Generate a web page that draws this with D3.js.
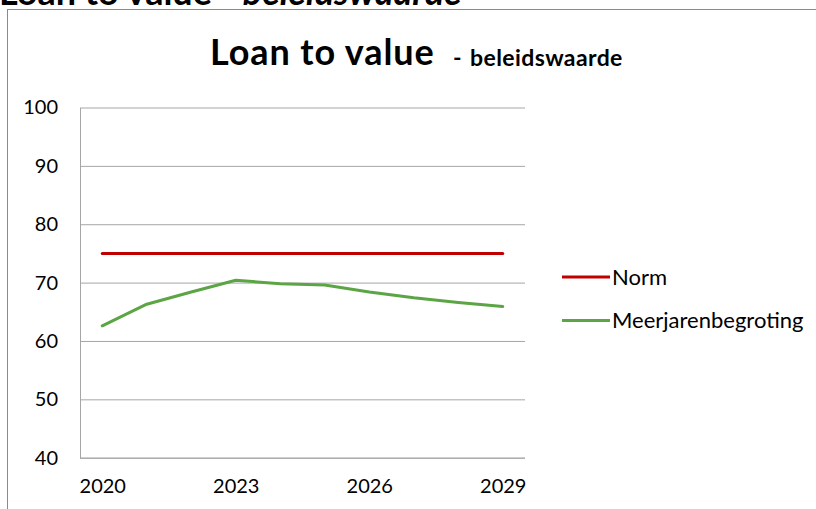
<!DOCTYPE html>
<meta charset="utf-8">
<head>
    <title>Loan to value</title>
    <script src="https://cdn.jsdelivr.net/npm/d3@7"></script>
    <style>
        body { margin: 0; background: #fff; }
        text { font-family: Lato, "Noto Sans", sans-serif; fill: #000; font-variant-numeric: tabular-nums; }
        .grid line { stroke: #a6a6a6; stroke-width: 1; }
        .grid .domain { stroke: #a6a6a6; }
    </style>
</head>
<body>
    <div id="chart"></div>
    <script>
        // data
        var years = [2020, 2021, 2022, 2023, 2024, 2025, 2026, 2027, 2028, 2029];
        var norm = [75, 75, 75, 75, 75, 75, 75, 75, 75, 75];
        var meerjaren = [62.6, 66.3, 68.4, 70.4, 69.8, 69.6, 68.4, 67.4, 66.6, 65.9];
        var xLabels = [2020, 2023, 2026, 2029];
        var yTicks = [40, 50, 60, 70, 80, 90, 100];
        var seriesNames = ["Norm", "Meerjarenbegroting"];
        var seriesColors = ["#c00000", "#5ba545"];

        var width = 816, height = 509;
        var plot = { left: 80, right: 525, top: 107.5, bottom: 457.7 };

        var svg = d3.select("#chart").append("svg")
            .attr("width", width)
            .attr("height", height);

        // cut-off heading from the page above
        var head = svg.append("text")
            .attr("x", -1)
            .attr("y", 5)
            .style("font-size", "36px")
            .style("font-weight", "bold");
        head.append("tspan").text("Loan to value - ");
        head.append("tspan").style("font-style", "italic").text("beleidswaarde");

        // chart frame
        svg.append("rect")
            .attr("x", 7.5).attr("y", 9.5)
            .attr("width", 900).attr("height", 600)
            .attr("fill", "none")
            .attr("stroke", "#8a8a8a");

        // title
        svg.append("text")
            .attr("x", 210)
            .attr("y", 65)
            .style("font-size", "36px")
            .style("font-weight", "bold")
            .style("letter-spacing", "0.9px")
            .text("Loan to value");
        svg.append("text")
            .attr("x", 453)
            .attr("y", 65.5)
            .style("font-size", "23px")
            .style("font-weight", "bold")
            .text("-");
        svg.append("text")
            .attr("x", 470)
            .attr("y", 65.5)
            .style("font-size", "23px")
            .style("font-weight", "bold")
            .style("letter-spacing", "0.4px")
            .text("beleidswaarde");

        var x = d3.scalePoint()
            .domain(years)
            .range([plot.left, plot.right])
            .padding(0.5);

        var y = d3.scaleLinear()
            .domain([40, 100])
            .range([plot.bottom, plot.top]);

        // gridlines + y labels
        var yAxis = svg.append("g")
            .attr("class", "grid")
            .attr("transform", "translate(" + plot.left + ",0)")
            .call(d3.axisLeft(y)
                .tickValues(yTicks)
                .tickSize(-(plot.right - plot.left))
                .tickSizeOuter(0)
                .tickPadding(22));
        yAxis.selectAll("text").style("font-size", "20px").attr("fill", "#1a1a1a");

        // x axis labels
        var xAxis = svg.append("g")
            .attr("class", "grid")
            .attr("transform", "translate(0," + plot.bottom + ")")
            .call(d3.axisBottom(x)
                .tickValues(xLabels)
                .tickSize(0)
                .tickPadding(21));
        xAxis.selectAll("text").style("font-size", "20px").attr("fill", "#1a1a1a");
        xAxis.select(".domain").attr("d", "M" + plot.left + ",0.5H" + plot.right);

        var line = d3.line()
            .x(function(d, i) { return x(years[i]); })
            .y(function(d) { return y(d); });

        var allSeries = [norm, meerjaren];
        svg.selectAll(".series")
            .data(allSeries)
            .enter().append("path")
            .attr("class", "series")
            .attr("d", line)
            .attr("fill", "none")
            .attr("stroke", function(d, i) { return seriesColors[i]; })
            .attr("stroke-width", 3)
            .attr("stroke-linecap", "round")
            .attr("stroke-linejoin", "round");

        // legend
        var legend = svg.append("g");
        var items = legend.selectAll("g")
            .data(seriesNames)
            .enter().append("g")
            .attr("transform", function(d, i) { return "translate(562," + (277 + i * 43.5) + ")"; });
        items.append("line")
            .attr("x1", 0).attr("x2", 48)
            .attr("stroke", function(d, i) { return seriesColors[i]; })
            .attr("stroke-width", 3);
        items.append("text")
            .attr("x", 50)
            .attr("dy", "0.35em")
            .style("font-size", "22px")
            .text(function(d) { return d; });
    </script>
</body>
</html>
